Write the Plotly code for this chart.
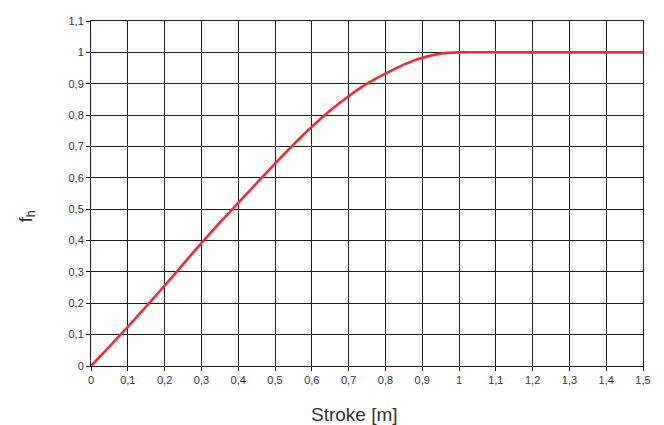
import plotly.graph_objects as go

stroke = [0, 0.05, 0.1, 0.15, 0.2, 0.25, 0.3, 0.35, 0.4, 0.45, 0.5, 0.55, 0.6, 0.65, 0.7, 0.75, 0.8, 0.85, 0.9, 0.95, 1.0, 1.1, 1.2, 1.3, 1.4, 1.5]
fh = [0, 0.062, 0.125, 0.19, 0.256, 0.324, 0.392, 0.457, 0.52, 0.583, 0.645, 0.706, 0.763, 0.815, 0.86, 0.9, 0.932, 0.961, 0.983, 0.996, 1.0, 1.0, 1.0, 1.0, 1.0, 1.0]

x_ticks = [i / 10 for i in range(16)]
x_labels = ["0", "0,1", "0,2", "0,3", "0,4", "0,5", "0,6", "0,7", "0,8", "0,9", "1", "1,1", "1,2", "1,3", "1,4", "1,5"]
y_ticks = [i / 10 for i in range(12)]
y_labels = ["0", "0,1", "0,2", "0,3", "0,4", "0,5", "0,6", "0,7", "0,8", "0,9", "1", "1,1"]

fig = go.Figure()
fig.add_trace(go.Scatter(x=stroke, y=fh, mode="lines",
                         line=dict(color="#ee2b3b", width=2.6, shape="spline", smoothing=0.6),
                         showlegend=False, hoverinfo="skip"))

font_family = "Liberation Sans, Arial, sans-serif"
fig.update_layout(
    width=656, height=417,
    margin=dict(l=83, r=21, t=7, b=59),
    paper_bgcolor="white", plot_bgcolor="white",
    font=dict(family=font_family, size=11, color="#333333"),
    xaxis=dict(range=[0, 1.5], tickvals=x_ticks, ticktext=x_labels,
               showgrid=True, gridcolor="#1a1a1a", gridwidth=1,
               showline=True, linecolor="#1a1a1a", linewidth=1, mirror=True,
               ticks="outside", ticklen=4, tickcolor="#1a1a1a", zeroline=False,
               tickfont=dict(size=11, color="#333333")),
    yaxis=dict(range=[0, 1.1], tickvals=y_ticks, ticktext=y_labels,
               showgrid=True, gridcolor="#1a1a1a", gridwidth=1,
               showline=True, linecolor="#1a1a1a", linewidth=1, mirror=True,
               ticks="outside", ticklen=4, tickcolor="#1a1a1a", zeroline=False,
               tickfont=dict(size=11, color="#333333")),
    annotations=[
        dict(text="Stroke [m]", xref="paper", yref="paper", x=0.478, y=0,
             yshift=-48, xanchor="center", yanchor="middle", showarrow=False,
             font=dict(size=19, color="#333333", family=font_family)),
        dict(text="f<sub>h</sub>", xref="paper", yref="paper", x=0, y=0.434,
             xshift=-64, xanchor="center", yanchor="middle", showarrow=False,
             textangle=-90, font=dict(size=18, color="#333333", family=font_family)),
    ],
)

fig.write_html("out.html")
